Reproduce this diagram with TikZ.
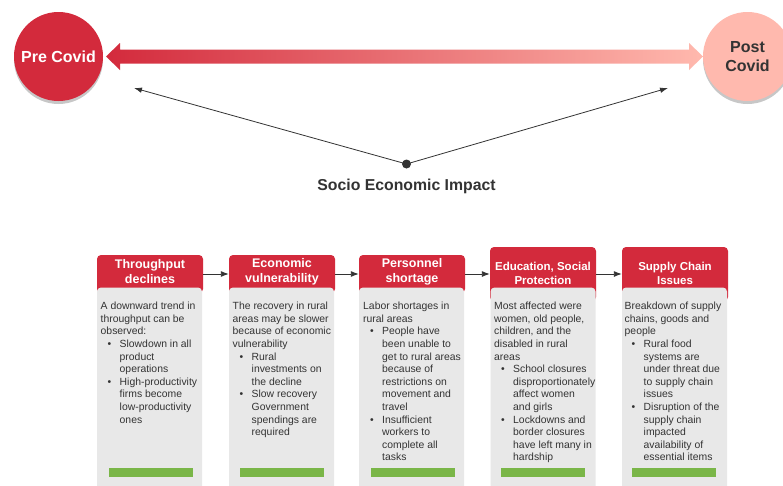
\documentclass[tikz,border=0pt]{standalone}
\usepackage{fontspec}
\setmainfont{Liberation Sans}
\usetikzlibrary{arrows.meta,shadows}
\definecolor{cred}{RGB}{211,42,60}
\definecolor{cpink}{RGB}{255,185,174}
\definecolor{cgray}{RGB}{232,232,232}
\definecolor{cgreen}{RGB}{122,182,72}
\definecolor{cdark}{RGB}{51,51,51}
\newcommand{\bul}{\hspace*{7pt}\makebox[12pt][l]{\textbullet}}
\newcommand{\ind}{\hspace*{19pt}}
\begin{document}
\begin{tikzpicture}[x=1pt,y=-1pt,
  circ/.style={circle, minimum size=89pt, inner sep=0pt, align=center,
    font=\fontsize{16}{19}\selectfont\bfseries,
    drop shadow={shadow xshift=0pt, shadow yshift=-3pt, opacity=0.22, fill=black}},
  hdr/.style={fill=cred, rounded corners=4pt, minimum width=106pt, inner sep=0pt},
  hdrtext/.style={text=white, align=center, inner sep=0pt, font=\fontsize{12.5}{15}\selectfont\bfseries},
  hdrsmall/.style={hdrtext, font=\fontsize{11.5}{14.6}\selectfont\bfseries},
  bodybox/.style={fill=cgray, rounded corners=4pt, minimum width=105pt, minimum height=205pt, inner sep=0pt},
  bodytext/.style={text=cdark, align=left, anchor=north west, inner sep=0pt, font=\fontsize{10.4}{12.6}\selectfont},
  bar/.style={fill=cgreen, minimum width=84pt, minimum height=9pt, inner sep=0pt},
  boxlink/.style={draw=cdark, line width=0.9pt, -{Latex[length=8pt,width=6pt]}},
  thinarrow/.style={draw=cdark, line width=0.8pt, -{Latex[length=8pt,width=5.5pt]}}
]
\useasboundingbox (0,0) rectangle (783,485);
\fill[white] (0,0) rectangle (783,485);

% gradient double arrow
\shade[left color=cred, right color=cpink]
  (106,56.5) -- (120,43) -- (120,49.5) -- (689,49.5) -- (689,43) -- (703,56.5)
  -- (689,70) -- (689,63.5) -- (120,63.5) -- (120,70) -- cycle;

% circles
\node[circ, fill=cred, text=white] (pre) at (58.5,56.5) {Pre Covid};
\node[circ, fill=cpink, text=cdark] (post) at (747.5,56.5) {Post\\Covid};

% socio economic impact
\node[circle, fill=cdark, minimum size=9pt, inner sep=0pt] (dot) at (406.5,164) {};
\coordinate (lt) at (134,88);
\coordinate (rt) at (668,88);
\draw[thinarrow] (dot.center) -- (lt);
\draw[thinarrow] (dot.center) -- (rt);
\node[text=cdark, font=\fontsize{15.8}{18}\selectfont\bfseries] (soc) at (406.5,186) {Socio Economic Impact};

% headers
\node[hdr, minimum height=38pt] (h1) at (150,274) {};
\node[hdr, minimum height=38pt] (h2) at (282,274) {};
\node[hdr, minimum height=38pt] (h3) at (412,274) {};
\node[hdr, minimum height=54pt] (h4) at (543,274) {};
\node[hdr, minimum height=54pt] (h5) at (675,274) {};

% bodies
\node[bodybox] (b1) at (149.5,390) {};
\node[bodybox] (b2) at (281.5,390) {};
\node[bodybox] (b3) at (411.5,390) {};
\node[bodybox] (b4) at (543,390) {};
\node[bodybox] (b5) at (674.5,390) {};

% header texts
\node[hdrtext] (t1) at (150,271.5) {Throughput\\declines};
\node[hdrtext] (t2) at (282,271.5) {Economic\\vulnerability};
\node[hdrtext] (t3) at (412,271.5) {Personnel\\shortage};
\node[hdrsmall] (t4) at (543,273.5) {Education, Social\\Protection};
\node[hdrsmall] (t5) at (675,273.5) {Supply Chain\\Issues};

% links
\draw[boxlink] (h1.east) -- (h2.west);
\draw[boxlink] (h2.east) -- (h3.west);
\draw[boxlink] (h3.east) -- (h4.west);
\draw[boxlink] (h4.east) -- (h5.west);

% body texts
\node[bodytext] (x1) at (100.5,302) {A downward trend in\\
throughput can be\\
observed:\\
\bul Slowdown in all\\
\ind product\\
\ind operations\\
\bul High-productivity\\
\ind firms become\\
\ind low-productivity\\
\ind ones};
\node[bodytext] (x2) at (232.5,302) {The recovery in rural\\
areas may be slower\\
because of economic\\
vulnerability\\
\bul Rural\\
\ind investments on\\
\ind the decline\\
\bul Slow recovery\\
\ind Government\\
\ind spendings are\\
\ind required};
\node[bodytext] (x3) at (363,302) {Labor shortages in\\
rural areas\\
\bul People have\\
\ind been unable to\\
\ind get to rural areas\\
\ind because of\\
\ind restrictions on\\
\ind movement and\\
\ind travel\\
\bul Insufficient\\
\ind workers to\\
\ind complete all\\
\ind tasks};
\node[bodytext] (x4) at (494,302) {Most affected were\\
women, old people,\\
children, and the\\
disabled in rural\\
areas\\
\bul School closures\\
\ind disproportionately\\
\ind affect women\\
\ind and girls\\
\bul Lockdowns and\\
\ind border closures\\
\ind have left many in\\
\ind hardship};
\node[bodytext] (x5) at (624.5,302) {Breakdown of supply\\
chains, goods and\\
people\\
\bul Rural food\\
\ind systems are\\
\ind under threat due\\
\ind to supply chain\\
\ind issues\\
\bul Disruption of the\\
\ind supply chain\\
\ind impacted\\
\ind availability of\\
\ind essential items};

% green bars
\node[bar] (g1) at (151,472.5) {};
\node[bar] (g2) at (282,472.5) {};
\node[bar] (g3) at (412.8,472.5) {};
\node[bar] (g4) at (542.8,472.5) {};
\node[bar] (g5) at (674,472.5) {};
\end{tikzpicture}
\end{document}
